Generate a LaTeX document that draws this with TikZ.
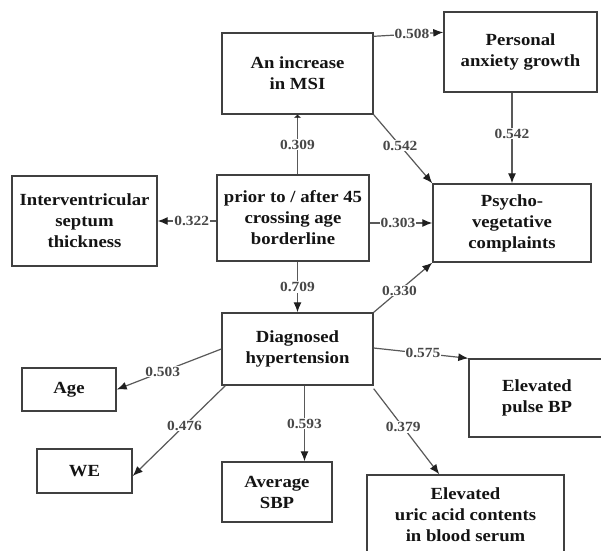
\documentclass[tikz,border=0pt]{standalone}
\usepackage{fontspec}
\setmainfont{Liberation Serif}[FakeStretch=1.1]
\usetikzlibrary{arrows.meta,calc}
\definecolor{boxc}{gray}{0.25}
\definecolor{linec}{gray}{0.35}
\definecolor{tipc}{gray}{0.12}
\definecolor{labc}{gray}{0.28}
\definecolor{txtc}{gray}{0.08}
\begin{document}
\begin{tikzpicture}[x=1pt,y=-1pt,
  box/.style={draw=boxc,line width=1.4pt,fill=white,align=center,
    font=\fontsize{17}{21}\selectfont\bfseries,text=txtc,inner sep=0pt},
  conn/.style={draw=linec,line width=1.2pt,-{Latex[length=10pt,width=8pt,color=tipc]}},
  lab/.style={fill=white,inner sep=1pt,font=\fontsize{14}{16}\selectfont\bfseries,text=labc}]
\useasboundingbox (0,0) rectangle (601,550);
\clip (0,0) rectangle (601,550);
\fill[white] (0,0) rectangle (601,550);

\node[box,minimum width=151pt,minimum height=81pt] (msi) at (297.5,73.5) {An increase\\in MSI};
\node[box,minimum width=153pt,minimum height=80pt] (anx) at (520.5,52) {Personal\\anxiety growth};
\node[box,minimum width=158pt,minimum height=78pt] (psy) at (512,223) {Psycho-\\vegetative\\complaints};
\node[box,minimum width=152pt,minimum height=86pt] (prior) at (293,218) {prior to / after 45\\crossing age\\borderline};
\node[box,minimum width=145pt,minimum height=90pt] (intv) at (84.5,221) {Interventricular\\septum\\thickness};
\node[box,minimum width=151pt,minimum height=72pt] (diag) at (297.5,349) {Diagnosed\\hypertension};
\node[box,minimum width=94pt,minimum height=43pt] (age) at (69,389.5) {Age};
\node[box,minimum width=95pt,minimum height=44pt] (we) at (84.5,471) {WE};
\node[box,minimum width=110pt,minimum height=60pt] (sbp) at (277,492) {Average\\SBP};
\node[box,minimum width=197pt,minimum height=80pt] (uric) at (465.5,515) {Elevated\\uric acid contents\\in blood serum};
\node[box,minimum width=136pt,minimum height=78pt] (pulse) at (537,398) {Elevated\\pulse BP};

\coordinate (d1) at ($(diag.south)+(7,0)$);

\draw[conn] ($(msi.north east)+(0,4)$) -- node[lab,pos=0.55]{0.508} ($(anx.north west)+(0,21)$);
\draw[conn,-{Latex[length=3pt,width=8pt,color=tipc]}] (prior.north -| msi.south) -- node[lab]{0.309} (msi.south);
\draw[conn] (msi.south east) -- node[lab,pos=0.45]{0.542} (psy.north west);
\draw[conn] (anx.south -| psy.north) -- node[lab,pos=0.45]{0.542} (psy.north);
\draw[conn] (intv.east -| prior.west) -- node[lab,pos=0.42]{0.322} (intv.east);
\draw[conn] (psy.west -| prior.east) -- node[lab,pos=0.45]{0.303} (psy.west);
\draw[conn] (prior.south -| diag.north) -- node[lab,pos=0.5]{0.709} (diag.north);
\draw[conn] (diag.north east) -- node[lab,pos=0.44]{0.330} (psy.south west);
\draw[conn] (diag.west) -- node[lab,pos=0.56]{0.503} (age.east);
\draw[conn] ($(diag.south west)+(4,0)$) -- node[lab,pos=0.44]{0.476} ($(we.east)+(0,5)$);
\draw[conn] (d1) -- node[lab,pos=0.5]{0.593} (d1 |- sbp.north);
\draw[conn] ($(diag.south east)+(0,3)$) -- node[lab,pos=0.45]{0.379} ($(uric.north west)+(73,0)$);
\draw[conn] ($(diag.east)+(0,-1)$) -- node[lab,pos=0.52]{0.575} (pulse.north west);
\end{tikzpicture}
\end{document}
